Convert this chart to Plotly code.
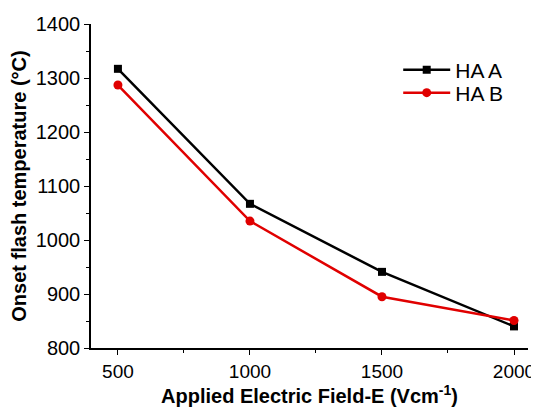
import plotly.graph_objects as go

field = [500, 1000, 1500, 2000]
ha_a = [1317, 1067, 941, 840]
ha_b = [1287, 1035, 895, 851]
x_ticks = [500, 1000, 1500, 2000]
y_ticks = [800, 900, 1000, 1100, 1200, 1300, 1400]

fig = go.Figure()
fig.add_trace(go.Scatter(x=field, y=ha_a, name="HA A", mode="lines+markers",
                         line=dict(color="black", width=2.5),
                         marker=dict(symbol="square", size=8, color="black"),
                         legend="legend"))
fig.add_trace(go.Scatter(x=field, y=ha_b, name="HA B", mode="lines+markers",
                         line=dict(color="#e00000", width=2.5),
                         marker=dict(symbol="circle", size=9, color="#e00000"),
                         legend="legend2"))

font = "Liberation Sans, Arial, sans-serif"
leg_common = dict(xanchor="left", yanchor="middle", bgcolor="rgba(0,0,0,0)",
                  font=dict(family=font, size=21, color="black"), itemwidth=47)
# page body has an 8px margin, so the figure is sized to fill the rest of the window
fig.update_layout(
    width=531, height=404,
    margin=dict(l=83, r=11, t=16, b=64, autoexpand=False),
    paper_bgcolor="white", plot_bgcolor="white",
    font=dict(family=font, color="black", size=20),
    showlegend=True,
    legend=dict(x=0.703, y=0.858, **leg_common),
    legend2=dict(x=0.703, y=0.787, **leg_common),
    xaxis=dict(range=[398, 2053], tickvals=x_ticks, showline=True, linecolor="black",
               linewidth=1.5, ticks="outside", ticklen=5, tickcolor="black",
               tickfont=dict(family=font, size=19, color="black"),
               showgrid=False, zeroline=False, automargin=False,
               minor=dict(dtick=250, tick0=500, ticks="outside", ticklen=3, tickcolor="black"),
               title=dict(text="<b>Applied Electric Field-E (Vcm<sup>-1</sup>)</b>",
                          font=dict(family=font, size=20, color="black"), standoff=4)),
    yaxis=dict(range=[800, 1400], tickvals=y_ticks, showline=True, linecolor="black",
               linewidth=1.5, ticks="outside", ticklen=5, tickcolor="black",
               tickfont=dict(family=font, size=20, color="black"),
               showgrid=False, zeroline=False, automargin=False,
               minor=dict(dtick=50, tick0=800, ticks="outside", ticklen=3, tickcolor="black"),
               title=dict(text="<b>Onset flash temperature (°C)</b>",
                          font=dict(family=font, size=20, color="black"), standoff=9)),
)
fig.write_html("out.html",
               post_script="document.documentElement.style.overflow='hidden';"
                           "document.body.style.overflow='hidden';")
